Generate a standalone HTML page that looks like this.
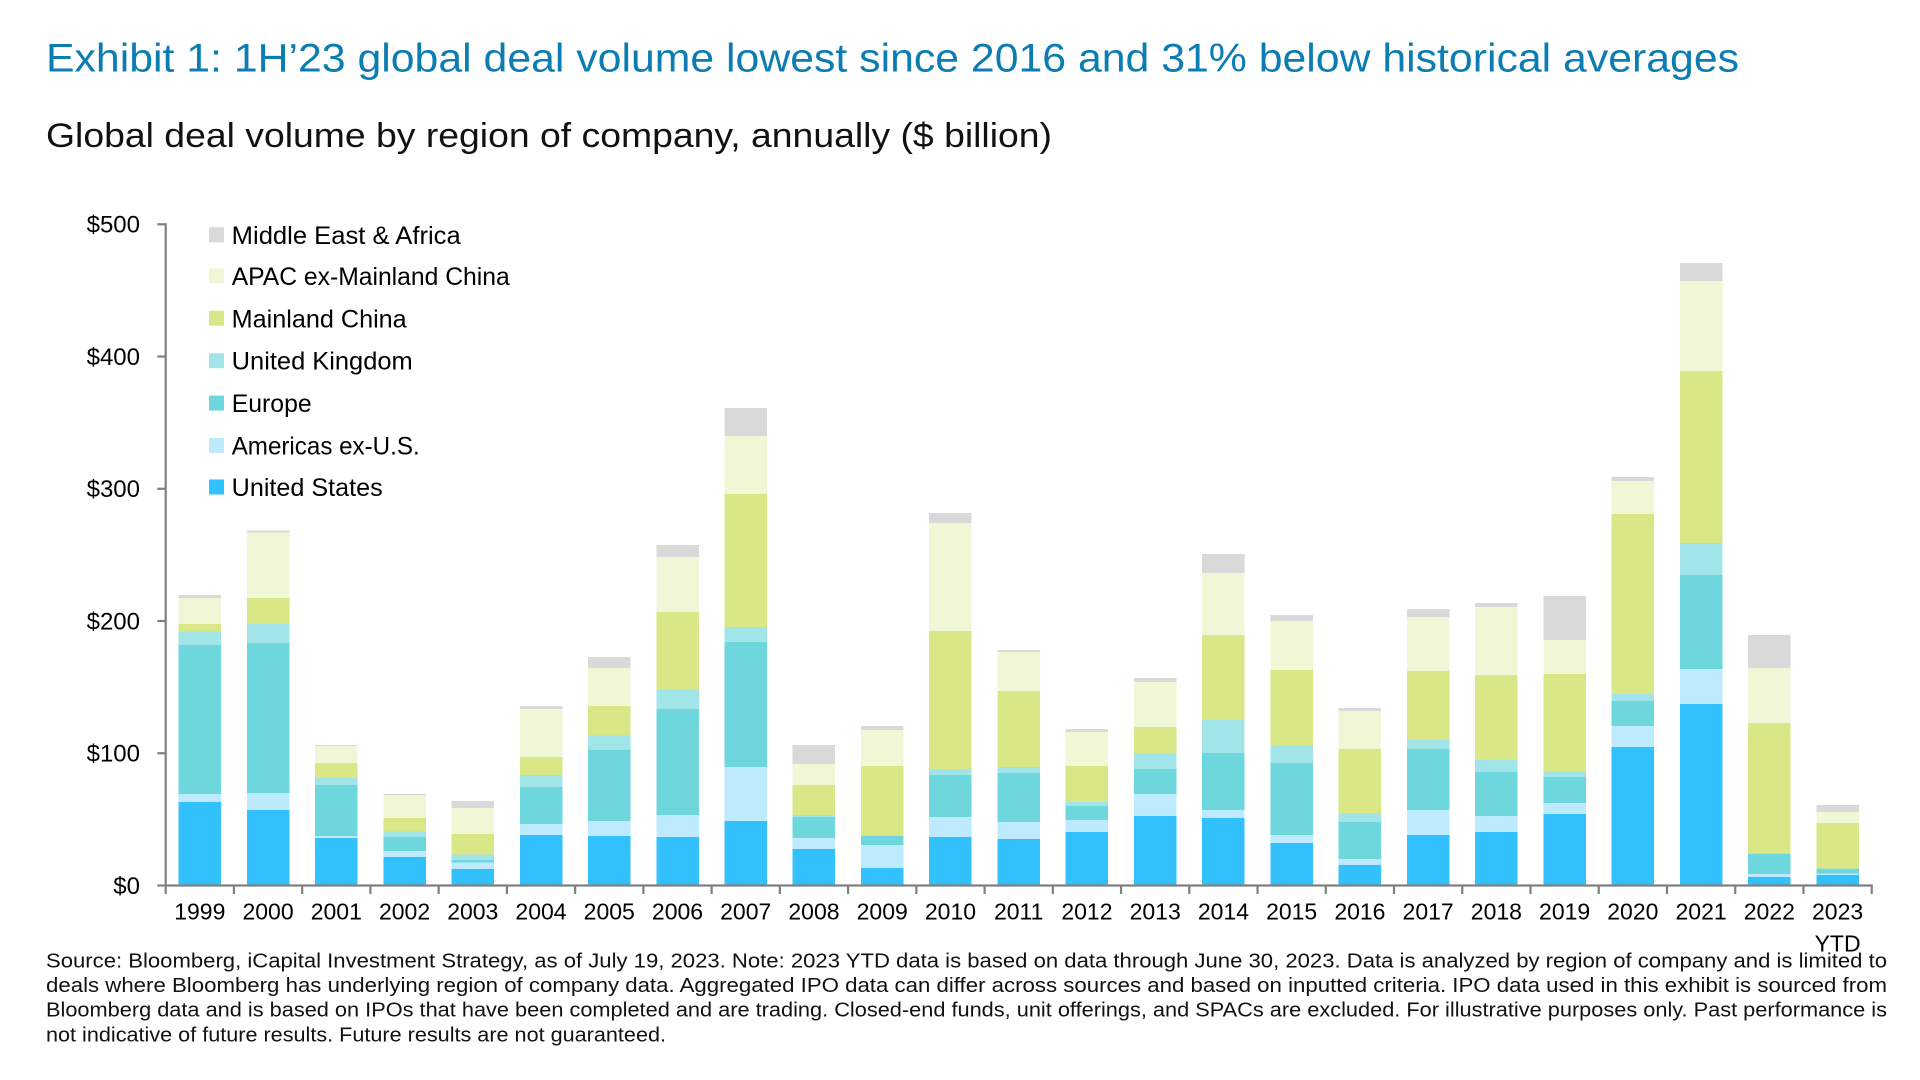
<!DOCTYPE html>
<html>
<head>
<meta charset="utf-8">
<style>
  html, body { margin:0; padding:0; background:#ffffff; }
  body { width:1920px; height:1080px; overflow:hidden; }
  svg { display:block; font-family:"Liberation Sans", Arial, sans-serif; }
  .mea { fill:#D9D9D9; }
  .apac { fill:#F0F7D7; }
  .mc { fill:#D9E787; }
  .uk { fill:#A1E5E9; }
  .eu { fill:#6DD7DD; }
  .am { fill:#BDEBFD; }
  .us { fill:#33C1FE; }
  .bars rect { shape-rendering:crispEdges; }
  .yl { font-size:24px; fill:#000; text-anchor:end; }
  .xl { font-size:23px; fill:#000; text-anchor:middle; }
  .lg { font-size:25px; fill:#000; }
  .fn { font-size:20px; fill:#111; }
</style>
</head>
<body>
<svg width="1920" height="1080" viewBox="0 0 1920 1080" xmlns="http://www.w3.org/2000/svg">
  <rect x="0" y="0" width="1920" height="1080" fill="#ffffff"/>

  <!-- Title & subtitle -->
  <text x="46" y="71.5" font-size="40" fill="#0B7DB3" textLength="1693" lengthAdjust="spacingAndGlyphs">Exhibit 1: 1H’23 global deal volume lowest since 2016 and 31% below historical averages</text>
  <text x="46" y="147" font-size="34" fill="#111111" textLength="1006" lengthAdjust="spacingAndGlyphs">Global deal volume by region of company, annually ($ billion)</text>

  <!-- Bars -->
  <g class="bars">
    <g transform="translate(178.57,0)">
      <rect class="mea" y="595.1" width="42.5" height="290.4"/><rect class="apac" y="598.2" width="42.5" height="287.3"/><rect class="mc" y="624.1" width="42.5" height="261.4"/><rect class="uk" y="631.7" width="42.5" height="253.8"/><rect class="eu" y="645.1" width="42.5" height="240.4"/><rect class="am" y="794.2" width="42.5" height="91.3"/><rect class="us" y="801.8" width="42.5" height="83.7"/>
    </g>
    <g transform="translate(246.81,0)">
      <rect class="mea" y="530.4" width="42.5" height="355.1"/><rect class="apac" y="532.6" width="42.5" height="352.9"/><rect class="mc" y="598.2" width="42.5" height="287.3"/><rect class="uk" y="624.1" width="42.5" height="261.4"/><rect class="eu" y="642.9" width="42.5" height="242.6"/><rect class="am" y="792.9" width="42.5" height="92.6"/><rect class="us" y="809.8" width="42.5" height="75.7"/>
    </g>
    <g transform="translate(315.05,0)">
      <rect class="mea" y="745.1" width="42.5" height="140.4"/><rect class="apac" y="746" width="42.5" height="139.5"/><rect class="mc" y="762.9" width="42.5" height="122.6"/><rect class="uk" y="778.1" width="42.5" height="107.4"/><rect class="eu" y="784.8" width="42.5" height="100.7"/><rect class="am" y="836.2" width="42.5" height="49.3"/><rect class="us" y="838" width="42.5" height="47.5"/>
    </g>
    <g transform="translate(383.29,0)">
      <rect class="mea" y="794.2" width="42.5" height="91.3"/><rect class="apac" y="795" width="42.5" height="90.5"/><rect class="mc" y="817.9" width="42.5" height="67.6"/><rect class="uk" y="831.3" width="42.5" height="54.2"/><rect class="eu" y="837" width="42.5" height="48.5"/><rect class="am" y="850.9" width="42.5" height="34.6"/><rect class="us" y="857.1" width="42.5" height="28.4"/>
    </g>
    <g transform="translate(451.53,0)">
      <rect class="mea" y="800.9" width="42.5" height="84.6"/><rect class="apac" y="808" width="42.5" height="77.5"/><rect class="mc" y="833.9" width="42.5" height="51.6"/><rect class="uk" y="854.5" width="42.5" height="31"/><rect class="eu" y="859.8" width="42.5" height="25.7"/><rect class="am" y="862.5" width="42.5" height="23"/><rect class="us" y="869.2" width="42.5" height="16.3"/>
    </g>
    <g transform="translate(519.77,0)">
      <rect class="mea" y="705.8" width="42.5" height="179.7"/><rect class="apac" y="708.9" width="42.5" height="176.6"/><rect class="mc" y="757.1" width="42.5" height="128.4"/><rect class="uk" y="775" width="42.5" height="110.5"/><rect class="eu" y="787" width="42.5" height="98.5"/><rect class="am" y="824.1" width="42.5" height="61.4"/><rect class="us" y="834.8" width="42.5" height="50.7"/>
    </g>
    <g transform="translate(588.01,0)">
      <rect class="mea" y="657" width="42.5" height="228.5"/><rect class="apac" y="668" width="42.5" height="217.5"/><rect class="mc" y="706" width="42.5" height="179.5"/><rect class="uk" y="735.3" width="42.5" height="150.2"/><rect class="eu" y="750" width="42.5" height="135.5"/><rect class="am" y="821" width="42.5" height="64.5"/><rect class="us" y="836" width="42.5" height="49.5"/>
    </g>
    <g transform="translate(656.25,0)">
      <rect class="mea" y="545" width="42.5" height="340.5"/><rect class="apac" y="557" width="42.5" height="328.5"/><rect class="mc" y="612" width="42.5" height="273.5"/><rect class="uk" y="690" width="42.5" height="195.5"/><rect class="eu" y="709" width="42.5" height="176.5"/><rect class="am" y="815" width="42.5" height="70.5"/><rect class="us" y="837" width="42.5" height="48.5"/>
    </g>
    <g transform="translate(724.49,0)">
      <rect class="mea" y="408" width="42.5" height="477.5"/><rect class="apac" y="436" width="42.5" height="449.5"/><rect class="mc" y="494" width="42.5" height="391.5"/><rect class="uk" y="627" width="42.5" height="258.5"/><rect class="eu" y="642" width="42.5" height="243.5"/><rect class="am" y="767" width="42.5" height="118.5"/><rect class="us" y="821" width="42.5" height="64.5"/>
    </g>
    <g transform="translate(792.73,0)">
      <rect class="mea" y="745" width="42.5" height="140.5"/><rect class="apac" y="764" width="42.5" height="121.5"/><rect class="mc" y="785" width="42.5" height="100.5"/><rect class="uk" y="815" width="42.5" height="70.5"/><rect class="eu" y="817" width="42.5" height="68.5"/><rect class="am" y="838" width="42.5" height="47.5"/><rect class="us" y="849" width="42.5" height="36.5"/>
    </g>
    <g transform="translate(860.97,0)">
      <rect class="mea" y="726" width="42.5" height="159.5"/><rect class="apac" y="730" width="42.5" height="155.5"/><rect class="mc" y="766" width="42.5" height="119.5"/><rect class="uk" y="835.3" width="42.5" height="50.2"/><rect class="eu" y="836" width="42.5" height="49.5"/><rect class="am" y="845" width="42.5" height="40.5"/><rect class="us" y="868" width="42.5" height="17.5"/>
    </g>
    <g transform="translate(929.21,0)">
      <rect class="mea" y="513" width="42.5" height="372.5"/><rect class="apac" y="523" width="42.5" height="362.5"/><rect class="mc" y="631" width="42.5" height="254.5"/><rect class="uk" y="769" width="42.5" height="116.5"/><rect class="eu" y="775" width="42.5" height="110.5"/><rect class="am" y="817" width="42.5" height="68.5"/><rect class="us" y="837" width="42.5" height="48.5"/>
    </g>
    <g transform="translate(997.45,0)">
      <rect class="mea" y="650" width="42.5" height="235.5"/><rect class="apac" y="652" width="42.5" height="233.5"/><rect class="mc" y="691" width="42.5" height="194.5"/><rect class="uk" y="767" width="42.5" height="118.5"/><rect class="eu" y="773" width="42.5" height="112.5"/><rect class="am" y="822" width="42.5" height="63.5"/><rect class="us" y="839" width="42.5" height="46.5"/>
    </g>
    <g transform="translate(1065.69,0)">
      <rect class="mea" y="729" width="42.5" height="156.5"/><rect class="apac" y="732" width="42.5" height="153.5"/><rect class="mc" y="766" width="42.5" height="119.5"/><rect class="uk" y="802" width="42.5" height="83.5"/><rect class="eu" y="806" width="42.5" height="79.5"/><rect class="am" y="820" width="42.5" height="65.5"/><rect class="us" y="832" width="42.5" height="53.5"/>
    </g>
    <g transform="translate(1133.93,0)">
      <rect class="mea" y="678" width="42.5" height="207.5"/><rect class="apac" y="682" width="42.5" height="203.5"/><rect class="mc" y="727" width="42.5" height="158.5"/><rect class="uk" y="754" width="42.5" height="131.5"/><rect class="eu" y="769" width="42.5" height="116.5"/><rect class="am" y="794" width="42.5" height="91.5"/><rect class="us" y="816" width="42.5" height="69.5"/>
    </g>
    <g transform="translate(1202.17,0)">
      <rect class="mea" y="554" width="42.5" height="331.5"/><rect class="apac" y="573" width="42.5" height="312.5"/><rect class="mc" y="635" width="42.5" height="250.5"/><rect class="uk" y="720" width="42.5" height="165.5"/><rect class="eu" y="753" width="42.5" height="132.5"/><rect class="am" y="810" width="42.5" height="75.5"/><rect class="us" y="818" width="42.5" height="67.5"/>
    </g>
    <g transform="translate(1270.41,0)">
      <rect class="mea" y="615" width="42.5" height="270.5"/><rect class="apac" y="621" width="42.5" height="264.5"/><rect class="mc" y="670" width="42.5" height="215.5"/><rect class="uk" y="746" width="42.5" height="139.5"/><rect class="eu" y="763" width="42.5" height="122.5"/><rect class="am" y="835" width="42.5" height="50.5"/><rect class="us" y="843" width="42.5" height="42.5"/>
    </g>
    <g transform="translate(1338.65,0)">
      <rect class="mea" y="708" width="42.5" height="177.5"/><rect class="apac" y="711" width="42.5" height="174.5"/><rect class="mc" y="749" width="42.5" height="136.5"/><rect class="uk" y="813" width="42.5" height="72.5"/><rect class="eu" y="822" width="42.5" height="63.5"/><rect class="am" y="859" width="42.5" height="26.5"/><rect class="us" y="865" width="42.5" height="20.5"/>
    </g>
    <g transform="translate(1406.89,0)">
      <rect class="mea" y="609" width="42.5" height="276.5"/><rect class="apac" y="617" width="42.5" height="268.5"/><rect class="mc" y="671" width="42.5" height="214.5"/><rect class="uk" y="740" width="42.5" height="145.5"/><rect class="eu" y="749" width="42.5" height="136.5"/><rect class="am" y="810" width="42.5" height="75.5"/><rect class="us" y="835" width="42.5" height="50.5"/>
    </g>
    <g transform="translate(1475.13,0)">
      <rect class="mea" y="603" width="42.5" height="282.5"/><rect class="apac" y="607" width="42.5" height="278.5"/><rect class="mc" y="675" width="42.5" height="210.5"/><rect class="uk" y="760" width="42.5" height="125.5"/><rect class="eu" y="772" width="42.5" height="113.5"/><rect class="am" y="816" width="42.5" height="69.5"/><rect class="us" y="832" width="42.5" height="53.5"/>
    </g>
    <g transform="translate(1543.37,0)">
      <rect class="mea" y="596" width="42.5" height="289.5"/><rect class="apac" y="640" width="42.5" height="245.5"/><rect class="mc" y="674" width="42.5" height="211.5"/><rect class="uk" y="771.7" width="42.5" height="113.8"/><rect class="eu" y="777" width="42.5" height="108.5"/><rect class="am" y="803" width="42.5" height="82.5"/><rect class="us" y="814" width="42.5" height="71.5"/>
    </g>
    <g transform="translate(1611.61,0)">
      <rect class="mea" y="477" width="42.5" height="408.5"/><rect class="apac" y="481" width="42.5" height="404.5"/><rect class="mc" y="514" width="42.5" height="371.5"/><rect class="uk" y="694" width="42.5" height="191.5"/><rect class="eu" y="701" width="42.5" height="184.5"/><rect class="am" y="726" width="42.5" height="159.5"/><rect class="us" y="747" width="42.5" height="138.5"/>
    </g>
    <g transform="translate(1679.85,0)">
      <rect class="mea" y="263" width="42.5" height="622.5"/><rect class="apac" y="281" width="42.5" height="604.5"/><rect class="mc" y="371" width="42.5" height="514.5"/><rect class="uk" y="543" width="42.5" height="342.5"/><rect class="eu" y="575" width="42.5" height="310.5"/><rect class="am" y="669" width="42.5" height="216.5"/><rect class="us" y="704" width="42.5" height="181.5"/>
    </g>
    <g transform="translate(1748.09,0)">
      <rect class="mea" y="635" width="42.5" height="250.5"/><rect class="apac" y="668" width="42.5" height="217.5"/><rect class="mc" y="723" width="42.5" height="162.5"/><rect class="uk" y="853" width="42.5" height="32.5"/><rect class="eu" y="854" width="42.5" height="31.5"/><rect class="am" y="874" width="42.5" height="11.5"/><rect class="us" y="877" width="42.5" height="8.5"/>
    </g>
    <g transform="translate(1816.33,0)">
      <rect class="mea" y="805" width="42.5" height="80.5"/><rect class="apac" y="812" width="42.5" height="73.5"/><rect class="mc" y="823" width="42.5" height="62.5"/><rect class="uk" y="868.5" width="42.5" height="17"/><rect class="eu" y="869" width="42.5" height="16.5"/><rect class="am" y="873.3" width="42.5" height="12.2"/><rect class="us" y="875" width="42.5" height="10.5"/>
    </g>
  </g>

  <!-- Axes -->
  <g stroke="#808080" stroke-width="2.2" fill="none">
    <line x1="165.7" y1="223.2" x2="165.7" y2="886.6"/>
    <line x1="164.6" y1="885.5" x2="1872.8" y2="885.5"/>
    <!-- y ticks -->
    <line x1="157.3" y1="224.3" x2="165.7" y2="224.3"/>
    <line x1="157.3" y1="356.54" x2="165.7" y2="356.54"/>
    <line x1="157.3" y1="488.78" x2="165.7" y2="488.78"/>
    <line x1="157.3" y1="621.02" x2="165.7" y2="621.02"/>
    <line x1="157.3" y1="753.26" x2="165.7" y2="753.26"/>
    <line x1="157.3" y1="885.5" x2="165.7" y2="885.5"/>
    <!-- x ticks -->
    <path d="M165.7 885.5V894 M233.94 885.5V894 M302.18 885.5V894 M370.42 885.5V894 M438.66 885.5V894 M506.9 885.5V894 M575.14 885.5V894 M643.38 885.5V894 M711.62 885.5V894 M779.86 885.5V894 M848.1 885.5V894 M916.34 885.5V894 M984.58 885.5V894 M1052.82 885.5V894 M1121.06 885.5V894 M1189.3 885.5V894 M1257.54 885.5V894 M1325.78 885.5V894 M1394.02 885.5V894 M1462.26 885.5V894 M1530.5 885.5V894 M1598.74 885.5V894 M1666.98 885.5V894 M1735.22 885.5V894 M1803.46 885.5V894 M1871.7 885.5V894"/>
  </g>

  <!-- Y labels -->
  <text class="yl" x="140" y="232.6">$500</text>
  <text class="yl" x="140" y="364.8">$400</text>
  <text class="yl" x="140" y="497.1">$300</text>
  <text class="yl" x="140" y="629.3">$200</text>
  <text class="yl" x="140" y="761.6">$100</text>
  <text class="yl" x="140" y="893.8">$0</text>

  <!-- X labels -->
  <g class="xl">
    <text class="xl" x="199.82" y="919.3">1999</text>
    <text class="xl" x="268.06" y="919.3">2000</text>
    <text class="xl" x="336.30" y="919.3">2001</text>
    <text class="xl" x="404.54" y="919.3">2002</text>
    <text class="xl" x="472.78" y="919.3">2003</text>
    <text class="xl" x="541.02" y="919.3">2004</text>
    <text class="xl" x="609.26" y="919.3">2005</text>
    <text class="xl" x="677.50" y="919.3">2006</text>
    <text class="xl" x="745.74" y="919.3">2007</text>
    <text class="xl" x="813.98" y="919.3">2008</text>
    <text class="xl" x="882.22" y="919.3">2009</text>
    <text class="xl" x="950.46" y="919.3">2010</text>
    <text class="xl" x="1018.70" y="919.3">2011</text>
    <text class="xl" x="1086.94" y="919.3">2012</text>
    <text class="xl" x="1155.18" y="919.3">2013</text>
    <text class="xl" x="1223.42" y="919.3">2014</text>
    <text class="xl" x="1291.66" y="919.3">2015</text>
    <text class="xl" x="1359.90" y="919.3">2016</text>
    <text class="xl" x="1428.14" y="919.3">2017</text>
    <text class="xl" x="1496.38" y="919.3">2018</text>
    <text class="xl" x="1564.62" y="919.3">2019</text>
    <text class="xl" x="1632.86" y="919.3">2020</text>
    <text class="xl" x="1701.10" y="919.3">2021</text>
    <text class="xl" x="1769.34" y="919.3">2022</text>
    <text class="xl" x="1837.58" y="919.3">2023</text>
    <text class="xl" x="1837.58" y="951.5">YTD</text>
  </g>

  <!-- Legend -->
  <rect class="mea" x="209" y="227.3" width="15" height="15"/>
  <text class="lg" x="231.7" y="243.8" textLength="229" lengthAdjust="spacingAndGlyphs">Middle East &amp; Africa</text>
  <rect class="apac" x="209" y="268.4" width="15" height="15"/>
  <text class="lg" x="231.7" y="284.9" textLength="278" lengthAdjust="spacingAndGlyphs">APAC ex-Mainland China</text>
  <rect class="mc" x="209" y="310.8" width="15" height="15"/>
  <text class="lg" x="231.7" y="327.3" textLength="175" lengthAdjust="spacingAndGlyphs">Mainland China</text>
  <rect class="uk" x="209" y="353.2" width="15" height="15"/>
  <text class="lg" x="231.7" y="369.7" textLength="181" lengthAdjust="spacingAndGlyphs">United Kingdom</text>
  <rect class="eu" x="209" y="395.6" width="15" height="15"/>
  <text class="lg" x="231.7" y="412.1" textLength="80" lengthAdjust="spacingAndGlyphs">Europe</text>
  <rect class="am" x="209" y="438" width="15" height="15"/>
  <text class="lg" x="231.7" y="454.5" textLength="188" lengthAdjust="spacingAndGlyphs">Americas ex-U.S.</text>
  <rect class="us" x="209" y="479.5" width="15" height="15"/>
  <text class="lg" x="231.7" y="496" textLength="151" lengthAdjust="spacingAndGlyphs">United States</text>

  <!-- Footnote -->
  <text class="fn" x="46" y="967.3" textLength="1841" lengthAdjust="spacingAndGlyphs">Source: Bloomberg, iCapital Investment Strategy, as of July 19, 2023. Note: 2023 YTD data is based on data through June 30, 2023. Data is analyzed by region of company and is limited to</text>
  <text class="fn" x="46" y="992" textLength="1841" lengthAdjust="spacingAndGlyphs">deals where Bloomberg has underlying region of company data. Aggregated IPO data can differ across sources and based on inputted criteria. IPO data used in this exhibit is sourced from</text>
  <text class="fn" x="46" y="1016.7" textLength="1841" lengthAdjust="spacingAndGlyphs">Bloomberg data and is based on IPOs that have been completed and are trading. Closed-end funds, unit offerings, and SPACs are excluded. For illustrative purposes only. Past performance is</text>
  <text class="fn" x="46" y="1041.5" textLength="620" lengthAdjust="spacingAndGlyphs">not indicative of future results. Future results are not guaranteed.</text>
</svg>
</body>
</html>
